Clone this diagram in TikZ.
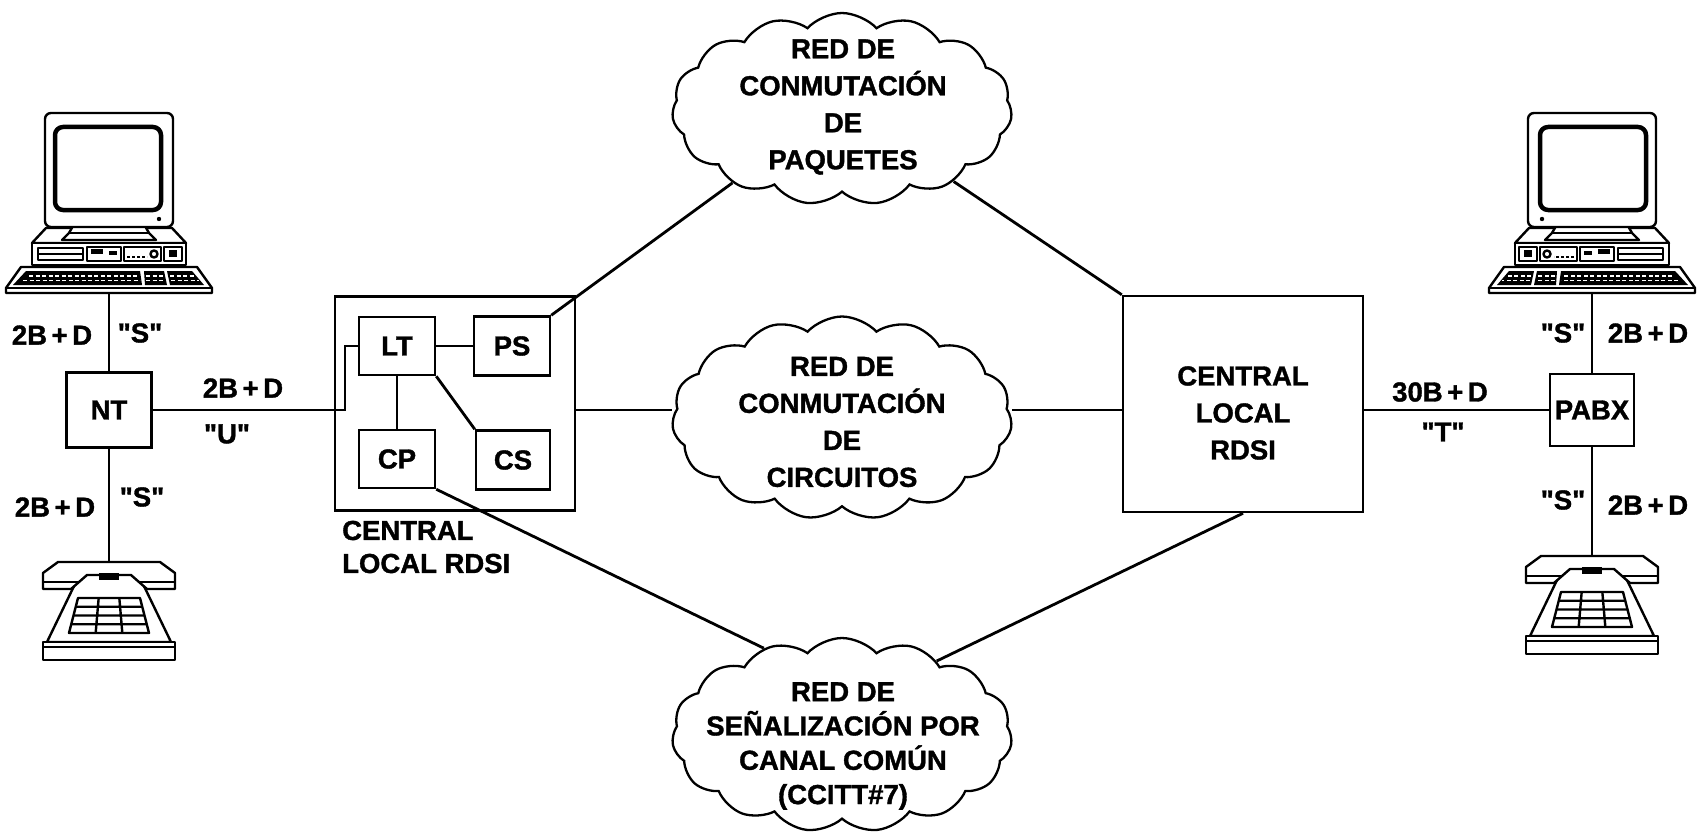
\documentclass[tikz,border=0pt]{standalone}
\usepackage{fontspec}
\setmainfont{Liberation Sans}[BoldFeatures={FakeBold=1.3}]
\usetikzlibrary{shapes.symbols}
% straight double quote glyph, set without the TeX text mapping
\newcommand{\dq}{\XeTeXglyph\XeTeXcharglyph"22\relax}

\tikzset{
  computer/.pic={
    % system unit
    \draw[fill=white] (-63,-65) -- (63,-65) -- (77,-50) -- (-77,-50) -- cycle;
    \draw[fill=white] (-77,-50) rectangle (77,-28);
    \draw (-71,-45) rectangle (-26,-33); \draw (-71,-39) -- (-26,-39);
    \draw (-22,-46) rectangle (12,-32);
    \fill (-18,-44) rectangle (-6,-39); \fill (0,-42) rectangle (8,-38);
    \draw (15,-46) rectangle (52,-32); \draw (45,-39) circle (3.5);
    \draw[dash pattern=on 3pt off 2pt] (18,-36) -- (38,-36);
    \draw (55,-46) rectangle (73,-32); \fill (60,-43) rectangle (68,-36);
    % stand
    \draw[fill=white] (-36,-67) -- (36,-67) -- (40,-60) -- (47,-53) -- (-47,-53) -- (-40,-60) -- cycle;
    \draw (-40,-60) -- (40,-60);
    % monitor
    \draw[fill=white, rounded corners=6pt] (-64,-180) rectangle (64,-66);
    \draw[line width=4.5pt, rounded corners=8pt] (-54,-166) rectangle (52,-83);
    \fill (50,-74) circle (2.2);
    % keyboard
    \draw[fill=white] (-88,-26) -- (88,-26) -- (103,-5) -- (103,0) -- (-103,0) -- (-103,-5) -- cycle;
    \draw (-103,-5) -- (103,-5);
    \fill (-83,-22) -- (31,-22) -- (33,-8) -- (-96,-8) -- cycle;
    \fill (35,-22) -- (55,-22) -- (58,-8) -- (36,-8) -- cycle;
    \fill (58,-22) -- (83,-22) -- (95,-8) -- (61,-8) -- cycle;
    \draw[white, line width=1.2pt, dash pattern=on 4pt off 2.5pt]
      (-80,-17) -- (30,-17) (-86,-12.5) -- (31,-12.5)
      (37,-17) -- (55,-17) (37,-12.5) -- (56,-12.5)
      (61,-17) -- (86,-17) (62,-12.5) -- (90,-12.5);
  },
  telephone/.pic={
    % body
    \draw[fill=white] (-34,22) -- (-62,80) -- (62,80) -- (34,22);
    % keypad
    \draw[line width=2.4pt, line join=round] (-31,36) -- (31,36) -- (40,71) -- (-40,71) -- cycle;
    \draw[line width=2.4pt] (-33.25,44.75) -- (33.25,44.75)
      (-35.5,53.5) -- (35.5,53.5) (-37.75,62.25) -- (37.75,62.25)
      (-10.33,36) -- (-13.33,71) (10.33,36) -- (13.33,71);
    % handset
    \draw[fill=white, line join=round] (-51,0) -- (51,0) -- (66,11) -- (66,27) -- (38,27)
      -- (22,13) -- (-22,13) -- (-38,27) -- (-66,27) -- (-66,11) -- cycle;
    \draw (-66,20) -- (-31,20) (66,20) -- (31,20);
    \fill (-10,11) rectangle (10,18);
    % base
    \draw[fill=white] (-66,80) rectangle (66,98);
    \draw (-66,85) -- (66,85);
  }
}

\begin{document}
\begin{tikzpicture}[x=1pt,y=-1pt,
  lbl/.style={font=\fontsize{27.5}{37}\selectfont\bfseries, inner sep=0pt},
  unit/.style={draw, line width=2.5pt, font=\fontsize{27.5}{37}\selectfont\bfseries, inner sep=0pt, align=center},
  net/.style={cloud, cloud puffs=15, cloud puff arc=95, cloud ignores aspect, draw,
    line width=2.3pt, inner sep=0pt, minimum width=340pt},
  link/.style={line width=2.8pt},
  gear/.style={line width=2.4pt, line join=round}]

\useasboundingbox (0,0) rectangle (1699,840);

% terminal equipment
\pic[gear] at (109,293) {computer};
\pic[gear] at (109,562) {telephone};
\pic[gear, xscale=-1] at (1592,293) {computer};
\pic[gear] at (1592,556) {telephone};
\coordinate (pcL) at (109,293);
\coordinate (telL) at (109,562);
\coordinate (pcR) at (1592,293);
\coordinate (telR) at (1592,556);

% network terminations
\node[unit, minimum width=85pt, minimum height=75pt] (nt) at (109,410) {NT};
\node[unit, minimum width=84pt, minimum height=72pt] (pabx) at (1592,410) {PABX};

% local exchanges
\node[unit, minimum width=240pt, minimum height=214pt] (lbox) at (455,403.5) {};
\node[unit, minimum width=76pt, minimum height=58pt] (lt) at (397,346) {LT};
\node[unit, minimum width=76pt, minimum height=59pt] (ps) at (512,346) {PS};
\node[unit, minimum width=76pt, minimum height=58pt] (cp) at (397,459) {CP};
\node[unit, minimum width=74pt, minimum height=59pt] (cs) at (513,460) {CS};
\coordinate (kink) at (345,346);
\node[lbl, align=left, anchor=west, font=\fontsize{27.5}{33}\selectfont\bfseries] (ltxt) at (342,547) {CENTRAL\\LOCAL RDSI};

\node[unit, minimum width=240pt, minimum height=216pt] (rbox) at (1243,404) {};
\node[lbl, align=center] (rtxt) at (1243,413) {CENTRAL\\LOCAL\\RDSI};

% networks
\node[net, minimum height=192pt] (pkt) at (842,109) {};
\node[lbl, align=center] (pkttxt) at (843,107) {RED DE\\CONMUTACIÓN\\DE\\PAQUETES};
\node[net, minimum height=203pt] (circ) at (842,418) {};
\node[lbl, align=center] (circtxt) at (842,422) {RED DE\\CONMUTACIÓN\\DE\\CIRCUITOS};
\node[net, minimum height=194pt] (sig) at (842,735) {};
\node[lbl, align=center, font=\fontsize{27.5}{34.3}\selectfont\bfseries] (sigtxt) at (843,746) {RED DE\\SEÑALIZACIÓN POR\\CANAL COMÚN\\(CCITT\#7)};

% connections
\draw[link] (pcL) -- (nt.north);
\draw[link] (nt.south) -- (telL);
\draw[link] (pcR) -- (pabx.north);
\draw[link] (pabx.south) -- (telR);
\draw[link] (nt.east) -| (kink) -- (lt.west);
\draw[link] (lt.east) -- (ps.west);
\draw[link] (lt.south) -- (cp.north);
\draw[link] (lt.south east) -- (cs.north west);
\draw[link] (ps.north east) -- (pkt.-146);
\draw[link] (cp.south east) -- (sig.132);
\draw[link] (lbox.east |- nt.east) -- (circ.west |- nt.east);
\draw[link] (circ.east |- pabx.west) -- (rbox.west |- pabx.west);
\draw[link] (rbox.east |- pabx.west) -- (pabx.west);
\draw[link] (rbox.north west) -- (pkt.-33);
\draw[link] (rbox.south) -- (sig.38);

% interface labels
\node[lbl] (bL1) at (52,335) {2B\,+\,D};
\node[lbl] (sL1) at (140,333) {\dq S\dq};
\node[lbl] (bL2) at (55,507) {2B\,+\,D};
\node[lbl] (sL2) at (142,497) {\dq S\dq};
\node[lbl] (bU) at (243,388) {2B\,+\,D};
\node[lbl] (uU) at (227,434) {\dq U\dq};
\node[lbl] (b30) at (1440,392) {30B\,+\,D};
\node[lbl] (tT) at (1443,432) {\dq T\dq};
\node[lbl] (sR1) at (1563,333) {\dq S\dq};
\node[lbl] (bR1) at (1648,333) {2B\,+\,D};
\node[lbl] (sR2) at (1563,500) {\dq S\dq};
\node[lbl] (bR2) at (1648,505) {2B\,+\,D};
\end{tikzpicture}
\end{document}
